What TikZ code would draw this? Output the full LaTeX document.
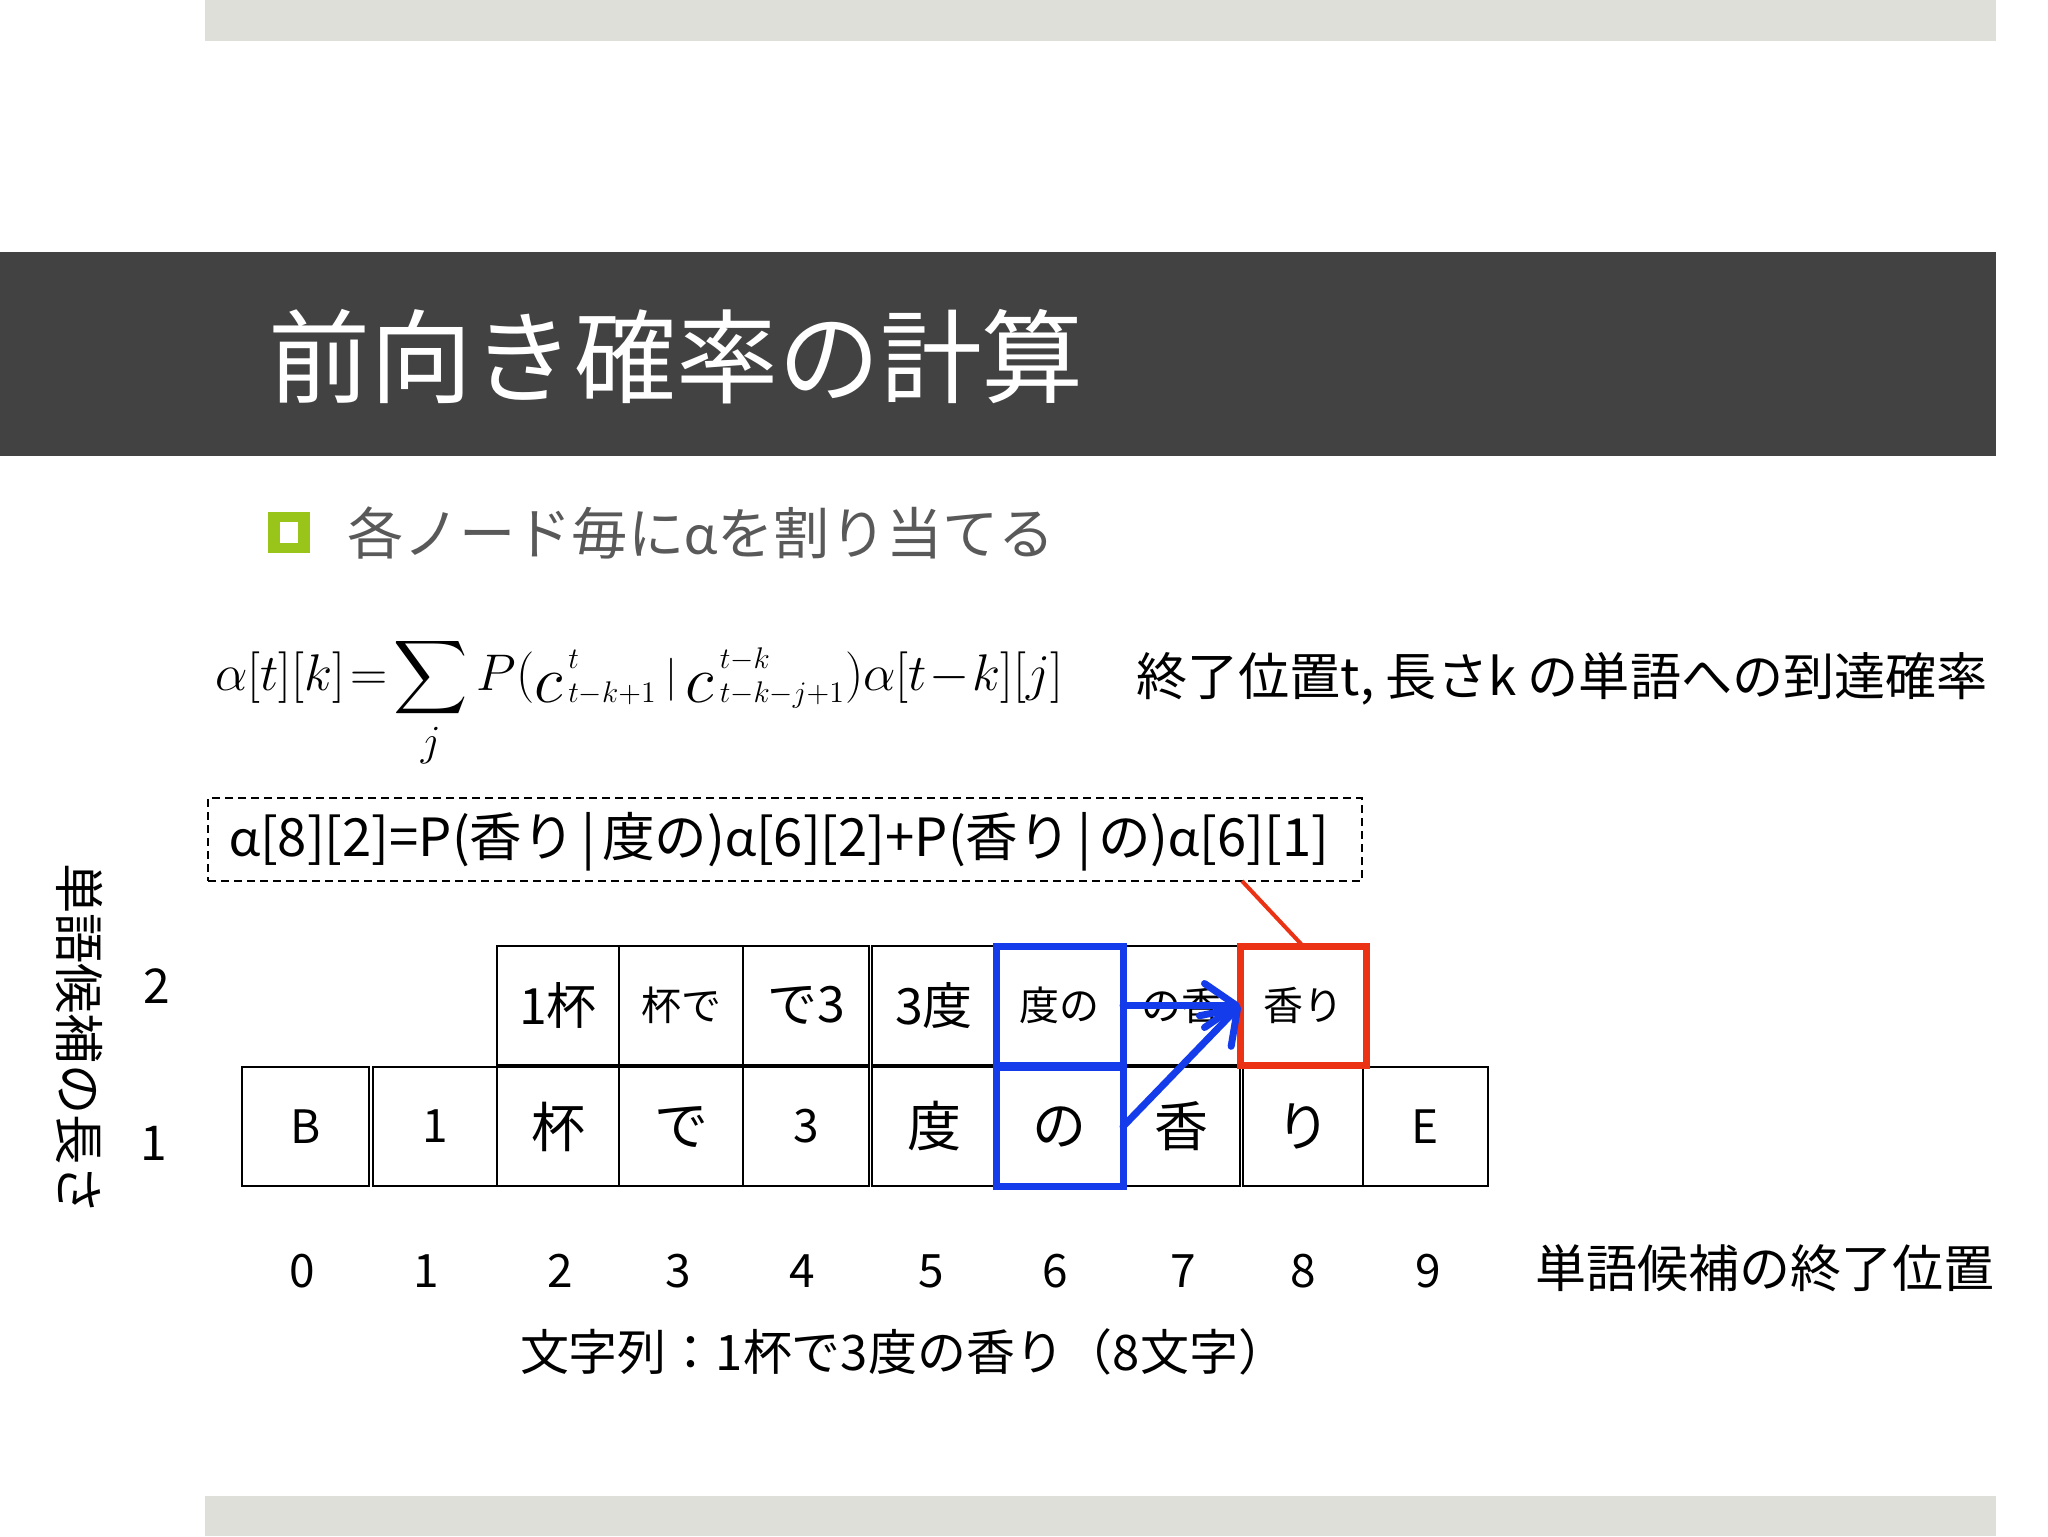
\documentclass[tikz,border=0pt]{standalone}
\usepackage{graphicx}
\usepackage{amsmath}
\usepackage[no-math]{fontspec}
\setmainfont{Noto Sans CJK JP}
\newfontfamily\latf{Lato}
\usetikzlibrary{arrows.meta,calc}
\definecolor{topgray}{RGB}{222,223,216}
\definecolor{titlegray}{RGB}{66,66,66}
\definecolor{bgreen}{RGB}{153,196,26}
\definecolor{bulletgray}{RGB}{89,89,89}
\definecolor{myblue}{RGB}{20,60,235}
\definecolor{myred}{RGB}{235,50,20}
\newcommand\al{{\latf α}}
\newcommand\fs[1]{\fontsize{#1}{#1}\selectfont}
\newcommand\bigc{\mathord{\raisebox{-0.2em}{\scalebox{1.3}{$c$}}}\mkern2mu}
\newcommand\tinyscr[1]{{\scriptscriptstyle #1}}
\newcommand\mycell[7]{\node[cellbox, minimum width={(#3-#2)*0.5pt}, minimum height={(#5-#4)*0.5pt}, font=\fs{#6}] (#1) at ({(#2+#3)/2},{(#4+#5)/2}) {#7};}
\begin{document}
\begin{tikzpicture}[x=0.5pt,y=-0.5pt,
  cellbox/.style={draw=black, line width=1.4pt, inner sep=0pt, outer sep=0pt},
  plain/.style={inner sep=0pt, outer sep=0pt},
  bluebox/.style={draw=myblue, line width=3.5pt},
  redbox/.style={draw=myred, line width=3.5pt},
  redline/.style={draw=myred, line width=2pt},
  bluearrow/.style={draw=myblue, line width=3.5pt, line cap=round, -{Straight Barb[length=16pt,width=22pt,line cap=round,line join=round]}},
  axisnum/.style={plain, font=\fs{23pt}},
  rownum/.style={plain, font=\fs{24pt}}]
\useasboundingbox[fill=white] (0,0) rectangle (2048,1536);
% background bars
\fill[topgray] (205,0) rectangle (1996,41);
\fill[topgray] (205,1496) rectangle (1996,1536);
\fill[titlegray] (0,252) rectangle (1996,456);
% title
\node[plain, anchor=west, text=white] (title) at (268,357) {\resizebox{408pt}{!}{\fs{50pt}前向き確率の計算}};
% bullet
\fill[bgreen] (268,512) rectangle (310,553);
\fill[white] (280,522) rectangle (298,543);
\node[plain, anchor=west, text=bulletgray] (bullet) at (347,533) {\resizebox{354pt}{!}{\fs{28pt}各ノード毎に\al を割り当てる}};
% formula
\node[plain, anchor=base west] (formula) at (215,690) {\resizebox{424pt}{!}{\fs{30pt}$\displaystyle \alpha[t][k]\!=\!\sum_{j}P(\bigc^{\tinyscr{t}}_{\tinyscr{t-k+1}}\,{\scriptstyle|}\,\bigc^{\tinyscr{t-k}}_{\tinyscr{t-k-j+1}})\alpha[t\!-\!k][j]$}};
\node[plain, anchor=west] (desc) at (1136,679) {\resizebox{426pt}{!}{\fs{26pt}終了位置t, 長さk の単語への到達確率}};
% dashed example box
\node[draw, dash pattern=on 4pt off 2.5pt, line width=0.9pt, minimum width=577pt, minimum height=41.5pt, plain] (dbox) at (785,839.5) {};
\node[plain, anchor=west] (dtext) at (229,842) {\resizebox{550pt}{!}{\fs{26pt}\al[8][2]=P(香り\hspace{0.12em}|\hspace{0.12em}度の)\al[6][2]+P(香り\hspace{0.12em}|\hspace{0.12em}の)\al[6][1]}};
% row 1 cells
\mycell{c10}{242}{369}{1067}{1186}{23pt}{B}
\mycell{c11}{373}{497}{1067}{1186}{23pt}{1}
\mycell{c12}{497}{619}{1067}{1186}{27pt}{杯}
\mycell{c13}{619}{743}{1067}{1186}{27pt}{で}
\mycell{c14}{743}{869}{1067}{1186}{23pt}{3}
\mycell{c15}{872}{996}{1067}{1186}{27pt}{度}
\mycell{c16}{996}{1123}{1067}{1186}{27pt}{の}
\mycell{c17}{1123}{1240}{1067}{1186}{27pt}{香}
\mycell{c18}{1243}{1363}{1067}{1186}{27pt}{り}
\mycell{c19}{1363}{1488}{1067}{1186}{23pt}{E}
% row 2 cells
\mycell{c22}{497}{619}{946}{1065}{25pt}{1杯}
\mycell{c23}{619}{743}{946}{1065}{20pt}{杯で}
\mycell{c24}{743}{869}{946}{1065}{25pt}{で3}
\mycell{c25}{872}{996}{946}{1065}{25pt}{3度}
\mycell{c26}{996}{1123}{946}{1065}{20pt}{度の}
\mycell{c27}{1123}{1240}{946}{1065}{20pt}{の香}
\mycell{c28}{1240}{1366}{946}{1065}{20pt}{香り}
% highlights
\draw[bluebox] (c26.north west) rectangle (c26.south east);
\draw[bluebox] (c16.north west) rectangle (c16.south east);
\draw[redbox] (c28.north west) rectangle (c28.south east);
\coordinate (rl) at (1242,881);
\draw[redline] (rl) -- (c28.north);
\draw[bluearrow] (c26.east) -- (c28.west);
\draw[bluearrow] (c16.east) -- (c28.west);
% axis labels
\node[rownum] (r2) at (157,986) {2};
\node[rownum] (r1) at (154,1143) {1};
\node[plain, rotate=-90] (vlabel) at (80,1039) {\resizebox{176pt}{!}{\fs{25pt}単語候補の長さ}};
\node[axisnum] (p0) at (302,1271) {0};
\node[axisnum] (p1) at (426,1271) {1};
\node[axisnum] (p2) at (560,1271) {2};
\node[axisnum] (p3) at (678,1271) {3};
\node[axisnum] (p4) at (802,1271) {4};
\node[axisnum] (p5) at (931,1271) {5};
\node[axisnum] (p6) at (1055,1271) {6};
\node[axisnum] (p7) at (1183,1271) {7};
\node[axisnum] (p8) at (1303,1271) {8};
\node[axisnum] (p9) at (1428,1271) {9};
\node[plain, anchor=west] (endpos) at (1535,1268) {\resizebox{229.5pt}{!}{\fs{25pt}単語候補の終了位置}};
\node[plain, anchor=west] (strlab) at (520,1352) {\resizebox{383.5pt}{!}{\fs{25pt}文字列：1杯で3度の香り（8文字）}};
\end{tikzpicture}
\end{document}
